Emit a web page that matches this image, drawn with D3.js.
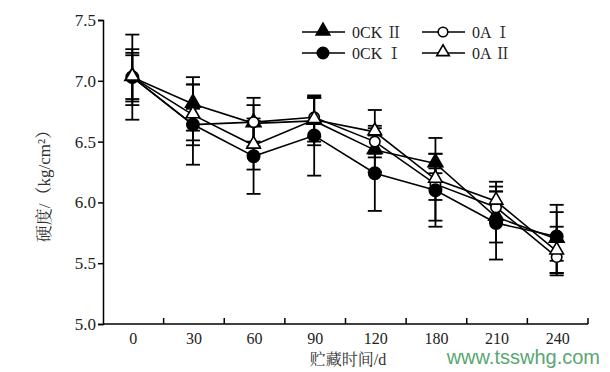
<!DOCTYPE html>
<html>
<head>
<meta charset="utf-8">
<script src="https://cdn.jsdelivr.net/npm/d3@7"></script>
<style>
  body { margin: 0; background: #fff; }
  text { font-family: "Liberation Serif", "Noto Serif CJK SC", "Noto Sans CJK SC", serif; }
</style>
</head>
<body>
<div id="chart"></div>
<script>
var days = ["0", "30", "60", "90", "120", "180", "210", "240"];
var yTicks = [5.0, 5.5, 6.0, 6.5, 7.0, 7.5];

var ck2 = [7.03, 6.81, 6.65, 6.67, 6.43, 6.32, 5.88, 5.70];
var ck2Err = [0.20, 0.22, 0.15, 0.20, 0.18, 0.08, 0.21, 0.28];
var ck1 = [7.03, 6.64, 6.38, 6.55, 6.24, 6.10, 5.83, 5.72];
var ck1Err = [0.35, 0.33, 0.31, 0.33, 0.31, 0.30, 0.30, 0.20];
var a1 = [7.03, 6.64, 6.66, 6.70, 6.50, 6.15, 5.96, 5.55];
var a1Err = [0.23, 0.13, 0.20, 0.16, 0.13, 0.13, 0.13, 0.13];
var a2 = [7.03, 6.72, 6.47, 6.68, 6.58, 6.19, 6.01, 5.60];
var a2Err = [0.18, 0.25, 0.20, 0.18, 0.18, 0.34, 0.16, 0.20];

var series = [
  {name: "0CK Ⅱ", values: ck2, err: ck2Err, shape: "tri", filled: true},
  {name: "0A Ⅰ", values: a1, err: a1Err, shape: "circle", filled: false},
  {name: "0CK Ⅰ", values: ck1, err: ck1Err, shape: "circle", filled: true},
  {name: "0A Ⅱ", values: a2, err: a2Err, shape: "tri", filled: false}
];

var margin = {top: 20, right: 22, bottom: 48, left: 103},
    width = 610 - margin.left - margin.right,
    height = 372 - margin.top - margin.bottom;

var svg = d3.select("#chart")
  .append("svg")
    .attr("width", 610)
    .attr("height", 372)
  .append("g")
    .attr("transform", "translate(" + margin.left + "," + margin.top + ")");

var x = d3.scaleBand()
  .domain(days)
  .range([0, width]);

var y = d3.scaleLinear()
  .domain([5.0, 7.5])
  .range([height, 0]);

// x axis: ticks at band edges pointing up
var xg = svg.append("g")
  .attr("transform", "translate(0," + height + ")");
xg.append("line")
  .attr("x1", 0).attr("x2", width)
  .attr("stroke", "#000").attr("stroke-width", 1.5);
xg.selectAll(".xt")
  .data(days.slice(1).concat(["end"]))
  .enter().append("line")
  .attr("x1", function(d) { return d == "end" ? width : x(d); })
  .attr("x2", function(d) { return d == "end" ? width : x(d); })
  .attr("y1", 0).attr("y2", -6)
  .attr("stroke", "#000").attr("stroke-width", 1.5);
xg.selectAll(".xl")
  .data(days)
  .enter().append("text")
  .attr("x", function(d) { return x(d) + x.bandwidth() / 2; })
  .attr("y", 20)
  .attr("text-anchor", "middle")
  .attr("font-size", "16px")
  .attr("fill", "#222")
  .text(function(d) { return d; });

// y axis
var yAxis = d3.axisLeft(y)
  .tickValues(yTicks)
  .tickSize(5)
  .tickFormat(d3.format(".1f"));
var yg = svg.append("g").call(yAxis);
yg.select(".domain").attr("stroke-width", 1.5);
yg.selectAll(".tick line").attr("stroke-width", 1.5);
yg.selectAll(".tick text")
  .attr("font-size", "17px")
  .attr("fill", "#222")
  .attr("x", -7)
  .style("font-family", "Liberation Serif, serif");

svg.append("text")
  .attr("text-anchor", "middle")
  .attr("transform", "translate(" + (-53) + "," + 162 + ") rotate(-90)")
  .attr("font-size", "17px")
  .attr("fill", "#333")
  .text("硬度/（kg/cm²）");

svg.append("text")
  .attr("text-anchor", "middle")
  .attr("x", 245)
  .attr("y", height + 41)
  .attr("font-size", "16px")
  .attr("fill", "#333")
  .text("贮藏时间/d");

var cx = function(i) { return x(days[i]) + x.bandwidth() / 2 - 1; };

// lines
var line = d3.line()
  .x(function(d, i) { return cx(i); })
  .y(function(d) { return y(d); });

series.forEach(function(s) {
  svg.append("path")
    .datum(s.values)
    .attr("d", line)
    .attr("fill", "none")
    .attr("stroke", "#000")
    .attr("stroke-width", 1.6);
});

// error bars
series.forEach(function(s) {
  var g = svg.append("g");
  s.values.forEach(function(v, i) {
    var hi = y(v + s.err[i]), lo = y(v - s.err[i]);
    g.append("line").attr("x1", cx(i)).attr("x2", cx(i)).attr("y1", hi).attr("y2", lo)
      .attr("stroke", "#000").attr("stroke-width", 1.8);
    [hi, lo].forEach(function(yy) {
      g.append("line").attr("x1", cx(i) - 7).attr("x2", cx(i) + 7).attr("y1", yy).attr("y2", yy)
        .attr("stroke", "#000").attr("stroke-width", 1.8);
    });
  });
});

function marker(g, shape, filled, px, py, scale) {
  var sym = shape == "tri" ? d3.symbolTriangle : d3.symbolCircle;
  var size = shape == "tri" ? (filled ? 95 : 80) : (filled ? 120 : 85);
  g.append("path")
    .attr("d", d3.symbol().type(sym).size(size * (scale || 1))())
    .attr("transform", "translate(" + px + "," + (py + (shape == "tri" ? -1 : 0)) + ")")
    .attr("fill", filled ? "#000" : "#fff")
    .attr("stroke", "#000")
    .attr("stroke-width", 1.6);
}

series.forEach(function(s) {
  var g = svg.append("g");
  s.values.forEach(function(v, i) { marker(g, s.shape, s.filled, cx(i), y(v)); });
});

// legend
var legend = svg.append("g");
series.forEach(function(s, k) {
  var lx = (k % 2 == 0) ? 199 : 319;
  var ly = (k < 2) ? 12 : 33;
  legend.append("line").attr("x1", lx).attr("x2", lx + 43).attr("y1", ly).attr("y2", ly)
    .attr("stroke", "#000").attr("stroke-width", 1.6);
  marker(legend, s.shape, s.filled, lx + 21, ly, 0.85);
  legend.append("text")
    .attr("x", lx + 50)
    .attr("y", ly + 6)
    .attr("font-size", "16px")
    .attr("fill", "#222")
    .text(s.name);
});

// watermark
d3.select("svg").append("text")
  .attr("x", 600)
  .attr("y", 364)
  .attr("text-anchor", "end")
  .attr("font-size", "20px")
  .attr("fill", "#5aa673")
  .style("font-family", "Liberation Sans, Arial, sans-serif")
  .text("www.tsswhg.com");
</script>
</body>
</html>
